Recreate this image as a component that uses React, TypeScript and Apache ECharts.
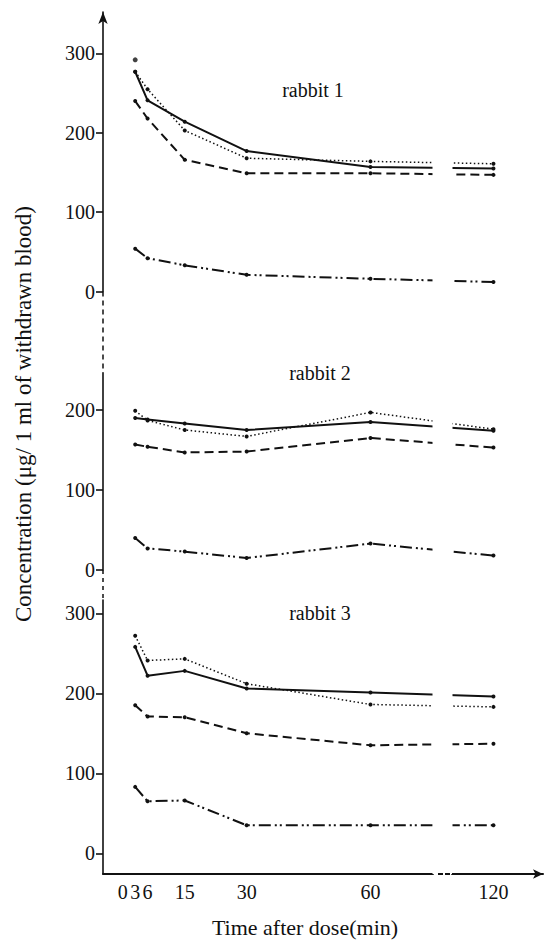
import React, { useEffect, useRef } from "react";
import * as echarts from "echarts";

// ---- data ----
const times = [3, 6, 15, 30, 60, 120];
const xTickValues = [0, 3, 6, 15, 30, 60, 120];
const panelNames = ["rabbit 1", "rabbit 2", "rabbit 3"];

const r1Solid = [277, 241, 214, 177, 157, 155];
const r1Dotted = [277, 255, 203, 168, 164, 161];
const r1Dashed = [240, 218, 166, 149, 149, 147];
const r1DashDot = [54, 42, 33, 21, 16, 12];
const r1ExtraDot = [292];

const r2Solid = [190, 188, 183, 175, 185, 174];
const r2Dotted = [199, 187, 175, 167, 197, 176];
const r2Dashed = [157, 154, 147, 148, 165, 153];
const r2DashDot = [40, 27, 23, 15, 33, 18];

const r3Solid = [258, 222, 228, 206, 201, 196];
const r3Dotted = [272, 241, 243, 212, 186, 183];
const r3Dashed = [185, 171, 170, 150, 135, 137];
const r3DashDot = [83, 65, 66, 35, 35, 35];

const yTicks1 = [0, 100, 200, 300];
const yTicks2 = [0, 100, 200];
const yTicks3 = [0, 100, 200, 300];

const yName = "Concentration (\u03bcg/ 1 ml of withdrawn blood)";
const xName = "Time after dose(min)";

// ---- styles ----
const INK = "#111";
const FONT = "Liberation Serif";

const styles = {
  solid: { type: "solid" as any, width: 2 },
  dotted: { type: [1.5, 2.5] as any, width: 1.5 },
  dashed: { type: [9, 5] as any, width: 2 },
  dashDot: { type: [12, 4, 2, 3, 2, 4] as any, width: 2 },
};

const mk = (t: number[], v: number[]) => t.map((x, i) => [x, v[i]]);

export default function App() {
  const ref = useRef<HTMLDivElement>(null);
  useEffect(() => {
    if (!ref.current) return;
    const chart = echarts.init(ref.current, null, { renderer: "svg" });

    const LEFT = 103;
    const RIGHT = 4;
    const grids = [
      { left: LEFT, right: RIGHT, top: 12, height: 279.5 },
      { left: LEFT, right: RIGHT, top: 373, height: 197 },
      { left: LEFT, right: RIGHT, top: 600, height: 274 },
    ];

    const xBase = (i: number) => ({
      type: "value",
      gridIndex: i,
      min: -4.8,
      max: 132,
      breaks: [{ start: 75, end: 110, gap: "4.5%" }],
      breakArea: {
        show: true,
        itemStyle: { color: "#fff", borderColor: "#fff", borderWidth: 0, opacity: 1 },
        zigzagAmplitude: 0,
        expandOnClick: false,
      },
      splitLine: { show: false },
      axisTick: { show: false },
    });

    const xAxes = [
      { ...xBase(0), axisLine: { show: false }, axisLabel: { show: false } },
      { ...xBase(1), axisLine: { show: false }, axisLabel: { show: false } },
      {
        ...xBase(2),
        axisLine: {
          show: true,
          onZero: false,
          symbol: ["none", "arrow"],
          symbolSize: [7, 10],
          lineStyle: { color: INK, width: 2 },
        },
        axisLabel: {
          show: true,
          customValues: xTickValues,
          formatter: (v: number) => String(v),
          color: INK,
          fontFamily: FONT,
          fontSize: 20,
          margin: 8,
          hideOverlap: false,
        },
      },
    ];

    const yBase = (i: number, min: number, max: number, ticks: number[], arrow: boolean) => ({
      type: "value",
      gridIndex: i,
      min,
      max,
      splitLine: { show: false },
      axisLine: {
        show: true,
        onZero: false,
        symbol: arrow ? ["none", "arrow"] : ["none", "none"],
        symbolSize: [7, 12],
        lineStyle: { color: INK, width: 1.6 },
      },
      axisTick: {
        show: true,
        customValues: ticks,
        length: 7,
        lineStyle: { color: INK, width: 1.6 },
      },
      axisLabel: {
        show: true,
        customValues: ticks,
        color: INK,
        fontFamily: FONT,
        fontSize: 20,
        margin: 8,
      },
    });

    const yAxes = [
      yBase(0, 0, 352.3, yTicks1, true),
      yBase(1, 0, 246.25, yTicks2, false),
      yBase(2, -25.9, 316.6, yTicks3, false),
    ];

    const panels = [
      [r1Solid, r1Dotted, r1Dashed, r1DashDot],
      [r2Solid, r2Dotted, r2Dashed, r2DashDot],
      [r3Solid, r3Dotted, r3Dashed, r3DashDot],
    ];
    const kinds = ["solid", "dotted", "dashed", "dashDot"] as const;

    const series: any[] = [];
    panels.forEach((p, gi) => {
      p.forEach((vals, k) => {
        series.push({
          type: "line",
          name: `${panelNames[gi]} ${kinds[k]}`,
          xAxisIndex: gi,
          yAxisIndex: gi,
          data: mk(times, vals),
          symbol: "circle",
          symbolSize: 4,
          showSymbol: true,
          itemStyle: { color: INK },
          lineStyle: { color: INK, ...styles[kinds[k]] },
          z: 2,
        });
      });
    });
    series.push({
      type: "scatter",
      name: "rabbit 1 extra",
      xAxisIndex: 0,
      yAxisIndex: 0,
      data: mk([times[0]], r1ExtraDot),
      symbol: "circle",
      symbolSize: 5,
      itemStyle: { color: INK },
    });

    const textStyle = { fontFamily: FONT, fontSize: 20, fill: INK };

    chart.setOption({
      animation: false,
      backgroundColor: "#fff",
      textStyle: { fontFamily: FONT },
      grid: grids,
      xAxis: xAxes,
      yAxis: yAxes,
      series,
      graphic: [
        {
          type: "line",
          shape: { x1: LEFT, y1: 291.5, x2: LEFT, y2: 373 },
          style: { stroke: INK, lineWidth: 1.5, lineDash: [5, 4] },
        },
        {
          type: "line",
          shape: { x1: LEFT, y1: 570, x2: LEFT, y2: 600 },
          style: { stroke: INK, lineWidth: 1.5, lineDash: [4, 4] },
        },
        {
          type: "line",
          z: 200,
          shape: { x1: 438, y1: 874, x2: 456, y2: 874 },
          style: { stroke: INK, lineWidth: 2, lineDash: [5, 2] },
        },
        { type: "text", x: 313, y: 90, style: { ...textStyle, text: panelNames[0], textAlign: "center", textVerticalAlign: "middle" } },
        { type: "text", x: 320, y: 373, style: { ...textStyle, text: panelNames[1], textAlign: "center", textVerticalAlign: "middle" } },
        { type: "text", x: 320, y: 613, style: { ...textStyle, text: panelNames[2], textAlign: "center", textVerticalAlign: "middle" } },
        { type: "text", x: 305, y: 927, style: { ...textStyle, fontSize: 22, text: xName, textAlign: "center", textVerticalAlign: "middle" } },
        {
          type: "text",
          x: 23,
          y: 414,
          rotation: Math.PI / 2,
          style: { ...textStyle, fontSize: 23, text: yName, textAlign: "center", textVerticalAlign: "middle" },
        },
      ],
    });
    return () => chart.dispose();
  }, []);
  return <div ref={ref} style={{ position: "fixed", left: 0, top: 0, width: 547, height: 947 }} />;
}
